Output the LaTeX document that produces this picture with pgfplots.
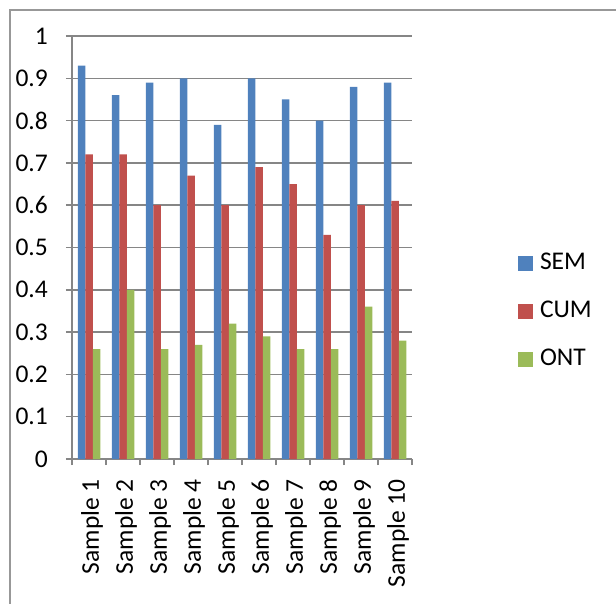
\documentclass[border=0pt]{standalone}
\usepackage{pgfplots}
\pgfplotsset{compat=1.18}
\usepackage{fontspec}
\setmainfont{Carlito}
\definecolor{semc}{HTML}{4F81BD}
\definecolor{cumc}{HTML}{C0504D}
\definecolor{ontc}{HTML}{9BBB59}
\definecolor{axc}{HTML}{868686}
\begin{document}
\begin{tikzpicture}
\useasboundingbox (0bp,0bp) rectangle (616bp,-604bp);
\draw[color=axc!85, line width=1.5bp] (10bp,-604bp) -- (10bp,-10bp) -- (616bp,-10bp);
\begin{axis}[
  at={(72bp,-459bp)}, anchor=south west,
  scale only axis, width=340bp, height=423bp,
  ybar=0pt, bar width=7.5bp,
  xmin=0.5, xmax=10.5, ymin=0, ymax=1,
  xtick={1,2,3,4,5,6,7,8,9,10},
  xticklabels={Sample 1,Sample 2,Sample 3,Sample 4,Sample 5,Sample 6,Sample 7,Sample 8,Sample 9,Sample 10},
  minor xtick={0.5,1.5,2.5,3.5,4.5,5.5,6.5,7.5,8.5,9.5,10.5},
  ytick={0,0.1,0.2,0.3,0.4,0.5,0.6,0.7,0.8,0.9,1},
  yticklabels={0,0.1,0.2,0.3,0.4,0.5,0.6,0.7,0.8,0.9,1},
  axis x line*=bottom, axis y line*=left,
  axis line style={axc, line width=1.5bp, -},
  tick align=outside,
  major tick length=6bp, minor tick length=6bp,
  major x tick style={draw=none},
  minor x tick style={axc, line width=1.5bp},
  major y tick style={axc, line width=1.5bp},
  ymajorgrids, grid style={axc, line width=1.5bp},
  tick label style={font=\fontsize{25.5bp}{30bp}\selectfont, text=black},
  yticklabel style={inner sep=0pt, anchor=east, xshift=-18bp},
  xticklabel style={rotate=90, anchor=east, inner sep=0pt, xshift=-14bp, yshift=-3bp},
  legend style={at={(1.3118,0.352)}, anchor=west, draw=none, fill=none,
    inner sep=0pt, outer sep=0pt, row sep=30bp, column sep=7bp,
    font=\fontsize{25.5bp}{30bp}\selectfont,
    nodes={inner sep=0pt, text height=16bp, text depth=0pt}},
  legend cell align=left,
]
\addplot[fill=semc, draw=none, legend image code/.code={\fill[semc] (0bp,-10bp) rectangle (15bp,5bp);}]
  coordinates {(1,0.93) (2,0.86) (3,0.89) (4,0.90) (5,0.79) (6,0.90) (7,0.85) (8,0.80) (9,0.88) (10,0.89)};
\addlegendentry{SEM}
\addplot[fill=cumc, draw=none, legend image code/.code={\fill[cumc] (0bp,-10bp) rectangle (15bp,5bp);}]
  coordinates {(1,0.72) (2,0.72) (3,0.60) (4,0.67) (5,0.60) (6,0.69) (7,0.65) (8,0.53) (9,0.60) (10,0.61)};
\addlegendentry{CUM}
\addplot[fill=ontc, draw=none, legend image code/.code={\fill[ontc] (0bp,-10bp) rectangle (15bp,5bp);}]
  coordinates {(1,0.26) (2,0.40) (3,0.26) (4,0.27) (5,0.32) (6,0.29) (7,0.26) (8,0.26) (9,0.36) (10,0.28)};
\addlegendentry{ONT}
\end{axis}
\end{tikzpicture}
\end{document}
